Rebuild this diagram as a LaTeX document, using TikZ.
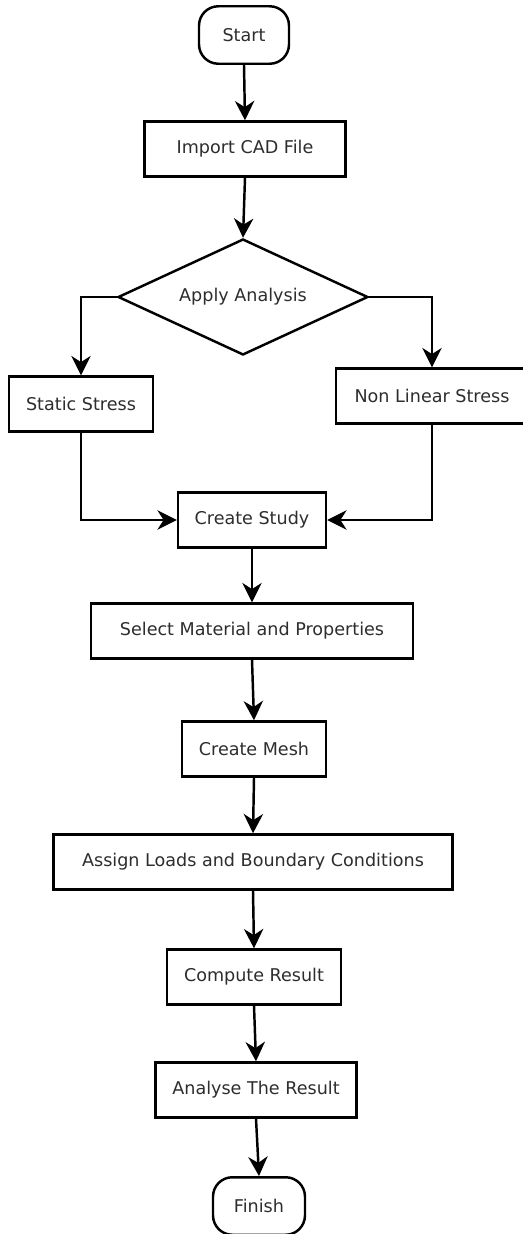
\documentclass[tikz,border=0pt]{standalone}
\usepackage{fontspec}
\setmainfont{DejaVu Sans}
\usepackage{tikz}
\usetikzlibrary{arrows.meta,shapes.geometric,positioning}
\usepackage{xcolor}
\definecolor{txtgray}{RGB}{45,45,45}
\tikzstyle{arrow} = [line width=1.4pt,-{Stealth[length=11pt,width=11pt,inset=3.5pt]}]
\tikzstyle{process} = [draw, line width=1.4pt, rectangle, minimum height=1.1cm, inner sep=0pt, text=txtgray]
\tikzstyle{terminal} = [draw, line width=1.4pt, rectangle, rounded corners=11pt, minimum width=1.8cm, minimum height=1.15cm, text=txtgray]
\tikzstyle{decision} = [draw, line width=1.4pt, diamond, aspect=2.14, minimum width=5cm, minimum height=2.32cm, inner sep=0pt, text=txtgray]

\begin{document}
\begin{tikzpicture}[x=0.02cm, y=-0.02cm, font=\fontsize{10}{12}\selectfont]
\useasboundingbox (0,0) rectangle (522,1234);
% Start and import
\node[terminal] (start) at (244,35) {Start};
\node[process, minimum width=4.02cm] (import) at (245,149) {Import CAD File};
\node[decision] (analysis) at (243,297) {Apply Analysis};

% Two branches
\node[process, minimum width=2.88cm, minimum height=1.1cm] (static) at (81,404) {Static Stress};
\node[process, minimum width=3.84cm] (nonlin) at (432,396) {Non Linear Stress};

% Main chain
\node[process, minimum width=2.96cm] (study) at (252,520) {Create Study};
\node[process, minimum width=6.44cm] (material) at (252,631) {Select Material and Properties};
\node[process, minimum width=2.88cm] (mesh) at (254,749) {Create Mesh};
\node[process, minimum width=7.98cm] (assign) at (253,862) {Assign Loads and Boundary Conditions};
\node[process, minimum width=3.48cm] (compute) at (254,977) {Compute Result};
\node[process, minimum width=4.02cm] (analyse) at (256,1090) {Analyse The Result};
\node[terminal, minimum width=1.84cm] (finish) at (259,1206) {Finish};

\draw[arrow] (start.south) -- (import.north);
\draw[arrow] (import.south) -- (analysis.north);
\draw[arrow] (analysis.west) -| (static.north);
\draw[arrow] (analysis.east) -| (nonlin.north);
\draw[arrow] (static.south) |- (study.west);
\draw[arrow] (nonlin.south) |- (study.east);
\draw[arrow] (study.south) -- (material.north);
\draw[arrow] (material.south) -- (mesh.north);
\draw[arrow] (mesh.south) -- (assign.north);
\draw[arrow] (assign.south) -- (compute.north);
\draw[arrow] (compute.south) -- (analyse.north);
\draw[arrow] (analyse.south) -- (finish.north);
\end{tikzpicture}
\end{document}
